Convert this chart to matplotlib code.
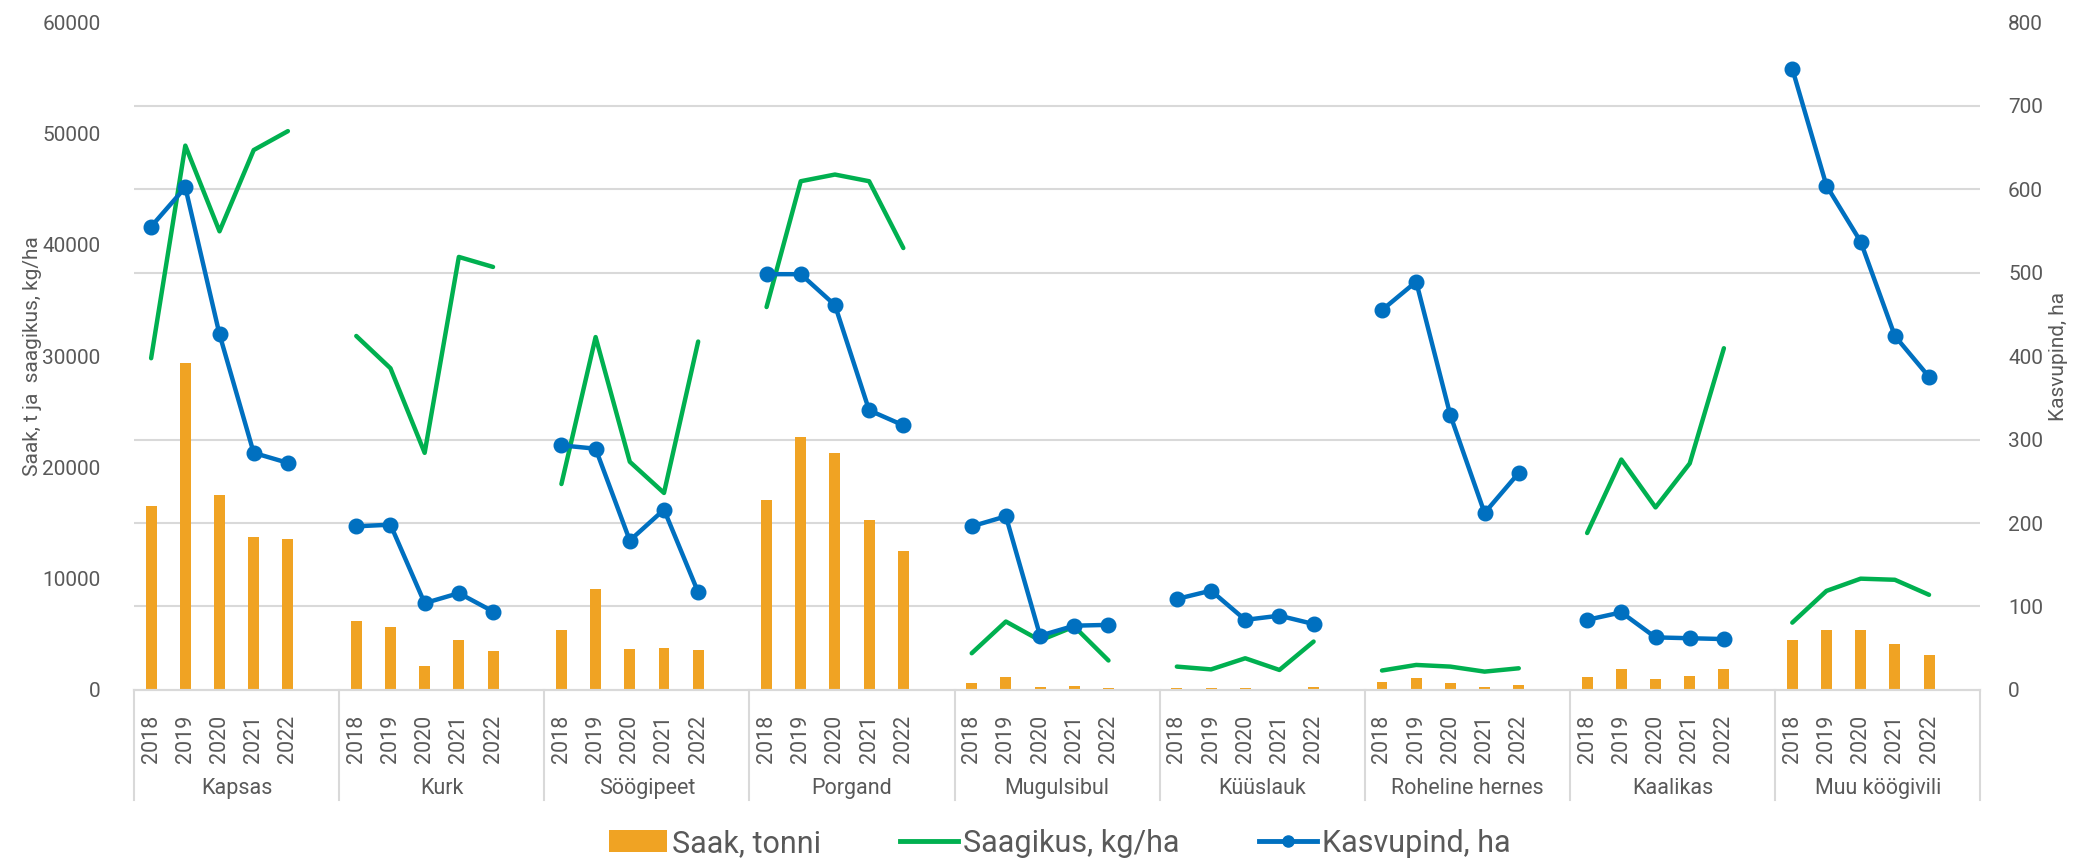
import matplotlib
matplotlib.use("Agg")
import matplotlib.pyplot as plt
import matplotlib.transforms as mtransforms
from matplotlib.lines import Line2D
from matplotlib.patches import Patch
import numpy as np

plt.rcParams['font.family'] = ['Roboto', 'DejaVu Sans']

# andmed
kultuurid = ["Kapsas", "Kurk", "Söögipeet", "Porgand", "Mugulsibul",
             "Küüslauk", "Roheline hernes", "Kaalikas", "Muu köögivili"]
aastad = ["2018", "2019", "2020", "2021", "2022"]

saak = [
    [16500, 29400, 17500, 13700, 13600],   # Kapsas
    [6200, 5650, 2150, 4500, 3500],        # Kurk
    [5400, 9100, 3650, 3800, 3600],        # Söögipeet
    [17100, 22700, 21300, 15300, 12500],   # Porgand
    [600, 1200, 250, 400, 150],            # Mugulsibul
    [180, 150, 180, 100, 300],             # Küüslauk
    [700, 1050, 600, 300, 450],            # Roheline hernes
    [1150, 1900, 1000, 1250, 1850],        # Kaalikas
    [4500, 5350, 5350, 4150, 3150],        # Muu köögivili
]
saagikus = [
    [29800, 48900, 41200, 48500, 50200],
    [31800, 28900, 21300, 38900, 38000],
    [18500, 31700, 20500, 17700, 31300],
    [34400, 45700, 46300, 45700, 39700],
    [3300, 6150, 4450, 5700, 2650],
    [2100, 1850, 2850, 1800, 4350],
    [1750, 2250, 2100, 1650, 1950],
    [14100, 20700, 16400, 20350, 30700],
    [6050, 8900, 10000, 9900, 8550],
]
kasvupind = [
    [555, 602, 426, 284, 272],
    [196, 198, 104, 116, 94],
    [293, 289, 179, 216, 117],
    [498, 498, 461, 335, 317],
    [196, 208, 65, 77, 78],
    [109, 119, 84, 89, 79],
    [455, 489, 329, 212, 260],
    [84, 93, 63, 62, 61],
    [744, 604, 537, 424, 375],
]

ORANZ = "#F0A323"
ROHE = "#00B050"
SININE = "#0070C0"
HALL = "#595959"
JOON = "#D9D9D9"

fig = plt.figure(figsize=(20.78, 8.64), dpi=100)
ax = fig.add_axes([0.0645, 0.2014, 0.8885, 0.7731])
ax2 = ax.twinx()

n_grp = len(kultuurid)
samm = len(aastad) + 1  # tühi koht grupi lõpus

for g in range(n_grp):
    x = np.arange(len(aastad)) + g * samm
    ax.bar(x, saak[g], width=0.32, color=ORANZ, zorder=2)
    ax.plot(x, saagikus[g], color=ROHE, lw=3.2, zorder=3, solid_capstyle='round')
    ax2.plot(x, kasvupind[g], color=SININE, lw=3.2, marker='o', markersize=10.5, zorder=4)

xmax = n_grp * samm - 0.5
ax.set_xlim(-0.5, xmax)
ax.set_ylim(0, 60000)
ax2.set_ylim(0, 800)

# vasak telg
ax.set_yticks(np.arange(0, 60001, 10000))
ax.set_yticks(np.arange(0, 60001, 7500), minor=True)
ax.grid(which='minor', axis='y', color=JOON, lw=1.5, zorder=0)
ax.tick_params(axis='y', which='both', length=0, pad=24, labelsize=15, labelcolor=HALL)
ax.set_ylabel("Saak, t ja  saagikus, kg/ha", fontsize=15, color=HALL, labelpad=0)

# parem telg
ax2.set_yticks(np.arange(0, 801, 100))
ax2.tick_params(axis='y', length=0, pad=20, labelsize=15, labelcolor=HALL)
ax2.set_ylabel("Kasvupind, ha", fontsize=15, color=HALL, labelpad=4)

for a in (ax, ax2):
    for s in ("top", "left", "right"):
        a.spines[s].set_visible(False)
    a.spines["bottom"].set_color(JOON)
    a.spines["bottom"].set_linewidth(1.5)

# x telje sildid: aastad
pos = [g * samm + k for g in range(n_grp) for k in range(len(aastad))]
ax.set_xticks(pos)
ax.set_xticklabels(aastad * n_grp, rotation=90, fontsize=15.5, color=HALL)
ax.tick_params(axis='x', length=0, pad=18)

# grupi nimed ja eraldusjooned
trans = mtransforms.blended_transform_factory(ax.transData, ax.transAxes)
for g in range(n_grp + 1):
    xs = g * samm - 0.5
    ax.plot([xs, xs], [0, -0.165], transform=trans, color=JOON, lw=1.5, clip_on=False)
for g, nimi in enumerate(kultuurid):
    xc = g * samm + (samm - 1) / 2
    ax.text(xc, -0.148, nimi, transform=trans, ha='center', va='center',
            fontsize=15.5, color=HALL)

handles = [
    Patch(facecolor=ORANZ, edgecolor='none'),
    Line2D([], [], color=ROHE, lw=3.5),
    Line2D([], [], color=SININE, lw=3.5, marker='o', markersize=8),
]
fig.legend(handles, ["Saak, tonni", "Saagikus, kg/ha", "Kasvupind, ha"],
           loc='center', bbox_to_anchor=(0.51, 0.024), ncol=3, frameon=False,
           fontsize=22, labelcolor=HALL, handlelength=1.9, handletextpad=0.15,
           columnspacing=2.6)

fig.savefig("out.png", dpi=100)
